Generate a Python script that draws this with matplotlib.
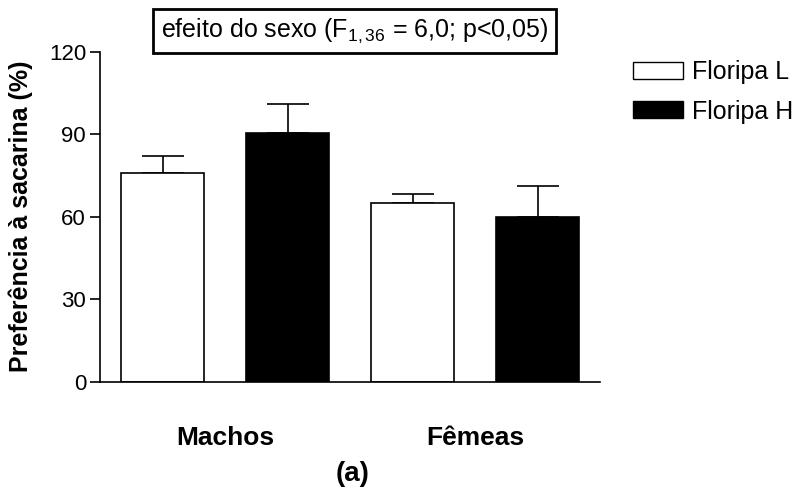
import matplotlib
matplotlib.use("Agg")
import matplotlib.pyplot as plt
import numpy as np
from matplotlib.patches import Patch

plt.rcParams['font.family'] = ['Liberation Sans', 'DejaVu Sans']
plt.rcParams['mathtext.fontset'] = 'custom'
plt.rcParams['mathtext.rm'] = 'Liberation Sans'
plt.rcParams['mathtext.it'] = 'Liberation Sans:italic'
plt.rcParams['mathtext.bf'] = 'Liberation Sans:bold'

groups = ["Machos", "Fêmeas"]
series = ["Floripa L", "Floripa H"]
means_L = [76.0, 64.9]
means_H = [90.5, 60.0]
err_L = [6.1, 3.3]
err_H = [10.5, 11.3]
yticks = [0, 30, 60, 90, 120]
title_text = "efeito do sexo (F$_{1,36}$ = 6,0; p<0,05)"
ylabel = "Preferência à sacarina (%)"
panel = "(a)"

W, H = 802, 493
fig = plt.figure(figsize=(W/100, H/100), dpi=100)
ax = fig.add_axes([100/W, (H-381.7)/H, 500/W, 330/H])

x = np.arange(len(groups))
off = 0.25
bw = 0.33
lw = 1.2
ax.bar(x - off, means_L, bw, color='white', edgecolor='black', linewidth=lw, zorder=2)
ax.bar(x + off, means_H, bw, color='black', edgecolor='black', linewidth=lw, zorder=2)
ax.errorbar(x - off, means_L, yerr=[np.zeros(len(err_L)), err_L], fmt='none',
            ecolor='black', elinewidth=lw, capsize=15, capthick=lw, zorder=1)
ax.errorbar(x + off, means_H, yerr=[np.zeros(len(err_H)), err_H], fmt='none',
            ecolor='black', elinewidth=lw, capsize=15, capthick=lw, zorder=1)

ax.set_xlim(-0.5, 1.5)
ax.set_ylim(0, 120)
ax.set_yticks(yticks)
ax.set_xticks(x)
ax.set_xticklabels(groups, fontsize=19, fontweight='bold')
ax.tick_params(axis='x', length=0, pad=32)
ax.tick_params(axis='y', length=7, width=lw, labelsize=16, pad=3, direction='out')
for s in ['top', 'right']:
    ax.spines[s].set_visible(False)
for s in ['left', 'bottom']:
    ax.spines[s].set_linewidth(lw)

ax.set_ylabel(ylabel, fontsize=18, fontweight='bold')
ax.yaxis.set_label_coords(-0.134, 0.5)

fig.text(354.5/W, 1 - 31/H, title_text, fontsize=18, ha='center', va='center',
         bbox=dict(boxstyle='square,pad=0.3', facecolor='white', edgecolor='black', linewidth=2))

handles = [Patch(facecolor='white', edgecolor='black', linewidth=1),
           Patch(facecolor='black', edgecolor='black', linewidth=1)]
fig.legend(handles, series, loc='upper left', bbox_to_anchor=(633/W, 1 - 60/H),
           frameon=False, fontsize=18, handlelength=2.0, handleheight=0.68,
           handletextpad=0.36, labelspacing=0.62, borderpad=0, borderaxespad=0)

fig.text(352.5/W, 1 - 474/H, panel, fontsize=20, fontweight='bold', ha='center', va='center')

fig.savefig("out.png", dpi=100)
